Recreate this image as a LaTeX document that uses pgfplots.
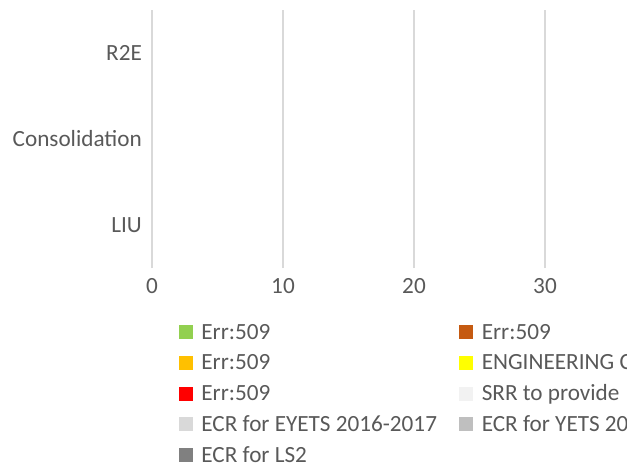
\documentclass[border=0pt]{standalone}
\usepackage{fontspec}
\setmainfont{Carlito}
\usepackage{pgfplots}
\pgfplotsset{compat=1.18}
\definecolor{txt}{HTML}{595959}
\definecolor{gridc}{HTML}{D9D9D9}
\definecolor{c1}{HTML}{92D050}
\definecolor{c2}{HTML}{C55A11}
\definecolor{c3}{HTML}{FFC000}
\definecolor{c4}{HTML}{FFFF00}
\definecolor{c5}{HTML}{FF0000}
\definecolor{c6}{HTML}{F2F2F2}
\definecolor{c7}{HTML}{D9D9D9}
\definecolor{c8}{HTML}{BFBFBF}
\definecolor{c9}{HTML}{808080}
\newcommand{\lt}[1]{\makebox[129pt][l]{#1}}
\begin{document}
\fontsize{11.6}{14}\selectfont
\begin{tikzpicture}
\useasboundingbox (-76pt,-100pt) rectangle (245pt,134pt);
\clip (-76pt,-100pt) rectangle (237pt,134pt);
\begin{axis}[
 scale only axis, width=262pt, height=129pt,
 xbar stacked, bar width=20pt,
 xmin=0, xmax=40, ymin=-0.5, ymax=2.5,
 xtick={0,10,20,30}, ytick={0,1,2}, yticklabels={LIU,Consolidation,R2E},
 axis line style={draw=none}, major tick length=0pt,
 xmajorgrids, major grid style={gridc, line width=0.75pt},
 tick label style={text=txt, font=\fontsize{11.6}{14}\selectfont},
 /pgf/number format/assume math mode=true,
 xticklabel style={yshift=-1pt},
 yticklabel style={xshift=-1pt},
 legend columns=2,
 legend cell align=left,
 legend image code/.code={\path[fill=none,draw=none] (0pt,-3.5pt) rectangle (11.2pt,3.5pt); \fill[#1,draw=none] (0pt,-3.5pt) rectangle (7pt,3.5pt);},
 legend style={draw=none, fill=none, inner sep=0pt, outer sep=0pt, at={(0,0)}, anchor=north west, xshift=13.5pt, yshift=-25.5pt, column sep=0pt, row sep=2.4pt, nodes={inner sep=0pt, text=txt, text height=10pt, text depth=3pt, font=\fontsize{11.6}{14}\selectfont}},
]
\addplot[fill=c1, draw=none] coordinates {(0,0) (0,1) (0,2)};
\addlegendentry{\lt{Err:509}}
\addplot[fill=c2, draw=none] coordinates {(0,0) (0,1) (0,2)};
\addlegendentry{\lt{Err:509}}
\addplot[fill=c3, draw=none] coordinates {(0,0) (0,1) (0,2)};
\addlegendentry{\lt{Err:509}}
\addplot[fill=c4, draw=none] coordinates {(0,0) (0,1) (0,2)};
\addlegendentry{\lt{ENGINEERING CHANGE REQUEST}}
\addplot[fill=c5, draw=none] coordinates {(0,0) (0,1) (0,2)};
\addlegendentry{\lt{Err:509}}
\addplot[fill=c6, draw=none] coordinates {(0,0) (0,1) (0,2)};
\addlegendentry{\lt{SRR to provide}}
\addplot[fill=c7, draw=none] coordinates {(0,0) (0,1) (0,2)};
\addlegendentry{\lt{ECR for EYETS 2016-2017}}
\addplot[fill=c8, draw=none] coordinates {(0,0) (0,1) (0,2)};
\addlegendentry{\lt{ECR for YETS 2017-2018}}
\addplot[fill=c9, draw=none] coordinates {(0,0) (0,1) (0,2)};
\addlegendentry{\lt{ECR for LS2}}
\end{axis}
\end{tikzpicture}
\end{document}
